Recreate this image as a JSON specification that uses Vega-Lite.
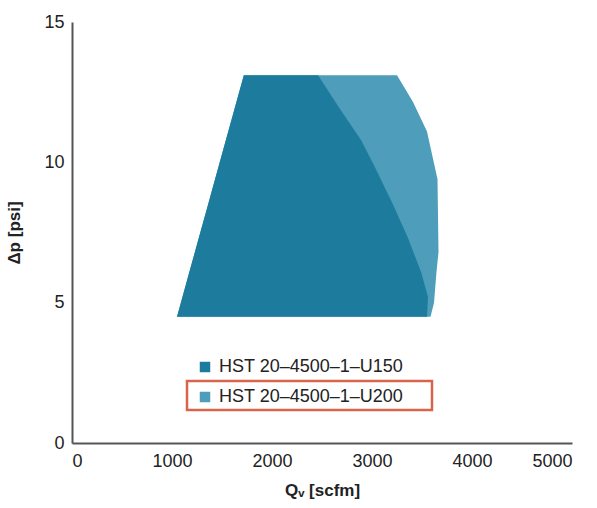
{
  "$schema": "https://vega.github.io/schema/vega-lite/v6.json",
  "width": 500,
  "height": 421,
  "autosize": {"type": "none"},
  "padding": {"left": 72, "top": 22, "right": 25, "bottom": 65},
  "background": "white",
  "config": {
    "view": {"stroke": null},
    "font": "Liberation Sans",
    "axis": {"grid": false, "domainColor": "#555555", "domainWidth": 2, "ticks": false, "labelFontSize": 18, "labelColor": "#222222", "titleFontSize": 17, "titleColor": "#222222", "titleFontWeight": "bold", "format": "d"}
  },
  "datasets": {
    "env": [
      {"series": "HST 20–4500–1–U200", "p": 4.5, "qmin": 1050, "qmax": 3585},
      {"series": "HST 20–4500–1–U200", "p": 5.0, "qmin": 1089, "qmax": 3620},
      {"series": "HST 20–4500–1–U200", "p": 6.1, "qmin": 1174, "qmax": 3645},
      {"series": "HST 20–4500–1–U200", "p": 6.8, "qmin": 1229, "qmax": 3665},
      {"series": "HST 20–4500–1–U200", "p": 9.4, "qmin": 1430, "qmax": 3655},
      {"series": "HST 20–4500–1–U200", "p": 11.1, "qmin": 1562, "qmax": 3550},
      {"series": "HST 20–4500–1–U200", "p": 12.15, "qmin": 1644, "qmax": 3410},
      {"series": "HST 20–4500–1–U200", "p": 13.1, "qmin": 1718, "qmax": 3250},
      {"series": "HST 20–4500–1–U150", "p": 4.5, "qmin": 1050, "qmax": 3550},
      {"series": "HST 20–4500–1–U150", "p": 5.2, "qmin": 1104, "qmax": 3560},
      {"series": "HST 20–4500–1–U150", "p": 6.1, "qmin": 1174, "qmax": 3490},
      {"series": "HST 20–4500–1–U150", "p": 7.3, "qmin": 1267, "qmax": 3360},
      {"series": "HST 20–4500–1–U150", "p": 8.5, "qmin": 1361, "qmax": 3210},
      {"series": "HST 20–4500–1–U150", "p": 9.9, "qmin": 1469, "qmax": 3020},
      {"series": "HST 20–4500–1–U150", "p": 10.8, "qmin": 1539, "qmax": 2890},
      {"series": "HST 20–4500–1–U150", "p": 11.9, "qmin": 1625, "qmax": 2680},
      {"series": "HST 20–4500–1–U150", "p": 13.1, "qmin": 1718, "qmax": 2460}
    ],
    "box": [{"x1": 1150, "x2": 3600, "y1": 1.18, "y2": 2.21}]
  },
  "layer": [
    {
      "data": {"name": "env"},
      "transform": [{"filter": "datum.series == 'HST 20–4500–1–U200'"}],
      "mark": {"type": "area", "orient": "horizontal", "opacity": 1},
      "encoding": {
        "y": {"field": "p", "type": "quantitative", "stack": null, "scale": {"domain": [0, 15], "nice": false}, "axis": {"values": [0, 5, 10, 15], "title": "Δp [psi]", "titlePadding": 20, "labelPadding": 8}},
        "x": {"field": "qmin", "type": "quantitative", "scale": {"domain": [0, 5000], "nice": false}, "axis": {"values": [0, 1000, 2000, 3000, 4000, 5000], "title": "Qᵥ [scfm]", "titlePadding": 12, "labelPadding": 9}},
        "x2": {"field": "qmax"},
        "color": {"field": "series", "type": "nominal", "scale": {"domain": ["HST 20–4500–1–U150", "HST 20–4500–1–U200"], "range": ["#1d7c9e", "#4e9dba"]},
          "legend": {"title": null, "orient": "none", "legendX": 124, "legendY": 336, "symbolType": "square", "symbolSize": 110, "labelFontSize": 18, "labelLimit": 0, "labelColor": "#222222", "rowPadding": 12, "symbolStrokeWidth": 0, "labelOffset": 5}}
      }
    },
    {
      "data": {"name": "env"},
      "transform": [{"filter": "datum.series == 'HST 20–4500–1–U150'"}],
      "mark": {"type": "area", "orient": "horizontal", "opacity": 1},
      "encoding": {
        "y": {"field": "p", "type": "quantitative", "stack": null},
        "x": {"field": "qmin", "type": "quantitative"},
        "x2": {"field": "qmax"},
        "color": {"field": "series", "type": "nominal"}
      }
    },
    {
      "data": {"name": "box"},
      "mark": {"type": "rect", "fill": null, "stroke": "#d8654a", "strokeWidth": 2.5},
      "encoding": {
        "x": {"field": "x1", "type": "quantitative"},
        "x2": {"field": "x2"},
        "y": {"field": "y1", "type": "quantitative"},
        "y2": {"field": "y2"}
      }
    }
  ]
}
